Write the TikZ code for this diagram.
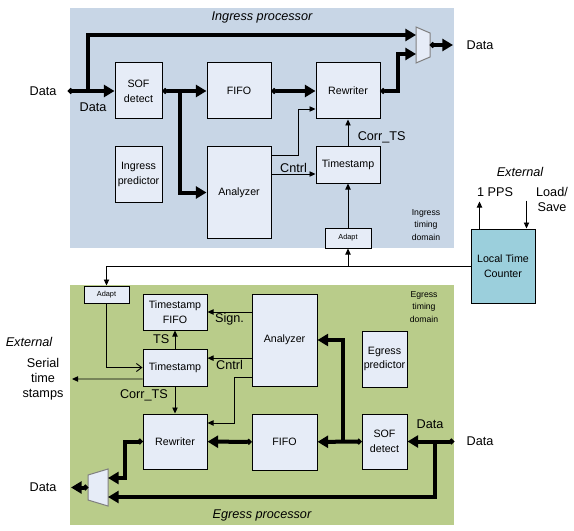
\documentclass[tikz,border=0pt]{standalone}
\usepackage{fontspec}
\setmainfont{Liberation Sans}
\usetikzlibrary{arrows.meta,calc}
\definecolor{ingressbg}{RGB}{200,214,230}
\definecolor{egressbg}{RGB}{185,204,138}
\definecolor{blockfill}{RGB}{230,236,247}
\definecolor{ltcfill}{RGB}{155,207,220}

\begin{document}
\begin{tikzpicture}
      [   x=0.75pt,y=-0.75pt,
          blk/.style 2 args={draw=black,line width=0.75pt,fill=blockfill,align=center,inner sep=0pt,
              font=\fontsize{8}{11}\selectfont,minimum width=#1,minimum height=#2},
          lbl/.style={align=center,inner sep=1pt,font=\fontsize{9.5}{11.25}\selectfont},
          dom/.style={align=center,inner sep=0pt,font=\fontsize{6.5}{9.5}\selectfont},
          tiny/.style={font=\fontsize{5.5}{7}\selectfont},
          mux/.style={draw=gray,line width=0.75pt,fill=blockfill},
          thk/.style={line width=3pt,-{Triangle[length=8pt,width=9pt]}},
          thkd/.style={line width=3pt,{Circle[length=4pt]}-{Triangle[length=8pt,width=9pt]}},
          thn/.style={line width=0.7pt,-{Triangle[length=4.5pt,width=4pt]}},
          opn/.style={line width=0.7pt,-{Straight Barb[length=4pt,width=6pt]}},
      ]
          \useasboundingbox (0,0) rectangle (574,531);
          % processor areas
          \fill[ingressbg] (70,8) rectangle (454,248);
          \fill[egressbg] (70,285) rectangle (454,525);
          \node[lbl,font=\fontsize{9.5}{11}\selectfont\itshape] (ititle) at (262,17) {Ingress processor};
          \node[lbl,font=\fontsize{9.5}{11}\selectfont\itshape] (etitle) at (262,515) {Egress processor};
          \node[dom] (idom) at (426,225) {Ingress\\timing\\domain};
          \node[dom] (edom) at (424,307) {Egress\\timing\\domain};

          % ingress blocks
          \node[blk={35.25pt}{42pt}] (isof) at (138.5,91) {SOF\\detect};
          \node[blk={35.25pt}{41.25pt}] (ipred) at (138.5,174.5) {Ingress\\predictor};
          \node[blk={48pt}{42pt}] (ififo) at (239,91) {FIFO};
          \node[blk={48pt}{68.25pt}] (ianal) at (239,192.5) {Analyzer};
          \node[blk={48pt}{42pt}] (irew) at (348,91) {Rewriter};
          \node[blk={48pt}{27pt}] (its) at (348,165) {Timestamp};
          \node[blk={34.5pt}{15pt},tiny] (iadapt) at (348,238) {Adapt};
          \draw[mux] (416,27) -- (430,33) -- (430,57) -- (416,63) -- cycle;
          \coordinate (imux-a) at (416,35);
          \coordinate (imux-b) at (416,54);
          \coordinate (imux-o) at (430,45);

          % egress blocks
          \node[blk={33.75pt}{12.75pt},tiny] (eadapt) at (106.5,294.5) {Adapt};
          \node[blk={48pt}{27pt}] (etsf) at (175,312) {Timestamp\\FIFO};
          \node[blk={48pt}{27.75pt}] (ets) at (175,367.5) {Timestamp};
          \node[blk={48pt}{41.25pt}] (erew) at (175,441.5) {Rewriter};
          \node[blk={48.75pt}{69pt}] (eanal) at (284.5,340) {Analyzer};
          \node[blk={48.75pt}{42pt}] (efifo) at (284.5,442) {FIFO};
          \node[blk={33.75pt}{42pt}] (epred) at (384.5,359) {Egress\\predictor};
          \node[blk={33.75pt}{41.25pt}] (esof) at (384.5,441.5) {SOF\\detect};
          \draw[mux] (88,475) -- (108,469) -- (108,506) -- (88,500) -- cycle;
          \coordinate (emux-a) at (108,478);
          \coordinate (emux-b) at (108,497);
          \coordinate (emux-o) at (88,487.5);

          % local time counter
          \node[blk={48pt}{55.5pt},fill=ltcfill] (ltc) at (503,266) {Local Time\\Counter};
          \node[lbl,font=\fontsize{9.5}{11}\selectfont\itshape] (iext) at (520,172) {External};
          \node[lbl] (pps) at (495,192) {1 PPS};
          \node[lbl] (load) at (552,199) {Load/\\Save};

          % outside labels
          \node[lbl] (idata-in) at (43,91) {Data};
          \node[lbl] (idata) at (93,107) {Data};
          \node[lbl] (idata-out) at (480,45) {Data};
          \node[lbl,font=\fontsize{9.5}{11}\selectfont\itshape] (eext) at (29,342) {External};
          \node[lbl] (serial) at (43,379) {Serial\\time\\stamps};
          \node[lbl] (edata-out) at (43,487.5) {Data};
          \node[lbl] (edata-in) at (480,441.5) {Data};
          \node[lbl] (edata) at (430,424) {Data};

          % ingress data path
          \coordinate (iin) at (68,91);
          \coordinate (ibr) at (88,91);
          \coordinate (isplit) at (180,91);
          \coordinate (iout) at (453,45);
          \draw[thkd] (iin) -- (isof);
          \draw[thk] (ibr) |- (imux-a);
          \draw[thk] (isplit) |- (ianal.west);
          \draw[thkd] (irew.east) -- ++(17,0) |- (imux-b);
          \draw[thkd] (imux-o) -- (iout);

          % egress data path
          \coordinate (ein) at (454,441.5);
          \coordinate (ebr) at (435,441.5);
          \coordinate (esplit) at (343,441.5);
          \coordinate (eout) at (71,487.5);
          \draw[thkd] (ein) -- (esof);
          \draw[thk] (ebr) |- (emux-b);
          \draw[thk] (esplit) |- (eanal.east);
          \draw[thkd] (erew.west) -- ++(-18,0) |- (emux-a);
          \draw[thkd] (emux-o) -- (eout);

          \foreach \a/\b in {isof/ififo,ififo/irew,esof/efifo,efifo/erew}
          {   \draw[thkd] (\a) -- (\b);
          }

          % ingress control
          \draw[thn] ([yshift=-6.75pt]ianal.north east) -- ++(27,0) |- ([yshift=-13.5pt]irew.west);
          \draw[thn] ([yshift=-6.75pt]its.west -| ianal.east) -- node[above,lbl] {Cntrl} ([yshift=-6.75pt]its.west);
          \draw[thn] (its) -- node[right=6pt,lbl,pos=0.35] {Corr\_TS} (irew);
          \draw[thn] (iadapt) -- (its);

          % time distribution
          \draw[thn] (ltc.west) -| (eadapt.north);
          \draw[thn] (iadapt.south |- ltc.west) -- (iadapt);
          \draw[thn] ([xshift=6.75pt]ltc.north west) -- ++(0,-27);
          \draw[thn] ($(ltc.north east)+(-9,-28)$) -- ++(0,28);

          % egress control
          \draw[thn] (etsf.east -| eanal.west) -- node[below,lbl] {Sign.} (etsf.east);
          \draw[thn] ([yshift=7pt]ets.east -| eanal.west) -- node[below,lbl] {Cntrl} ([yshift=7pt]ets.east);
          \draw[thn] ([yshift=6.75pt]eanal.south west) -- ++(-17,0) |- ([yshift=13.9pt]erew.east);
          \draw[thn] (ets) -- node[left=3pt,lbl] {TS} (etsf);
          \draw[thn] (ets) -- node[left=4pt,lbl,pos=0.32] {Corr\_TS} (erew);
          \draw[opn] (eadapt) |- (ets.west);
          \coordinate (eser) at (72,379);
          \draw[thn] ([yshift=-8.6pt]ets.west) -- (eser);
    \end{tikzpicture}
\end{document}
